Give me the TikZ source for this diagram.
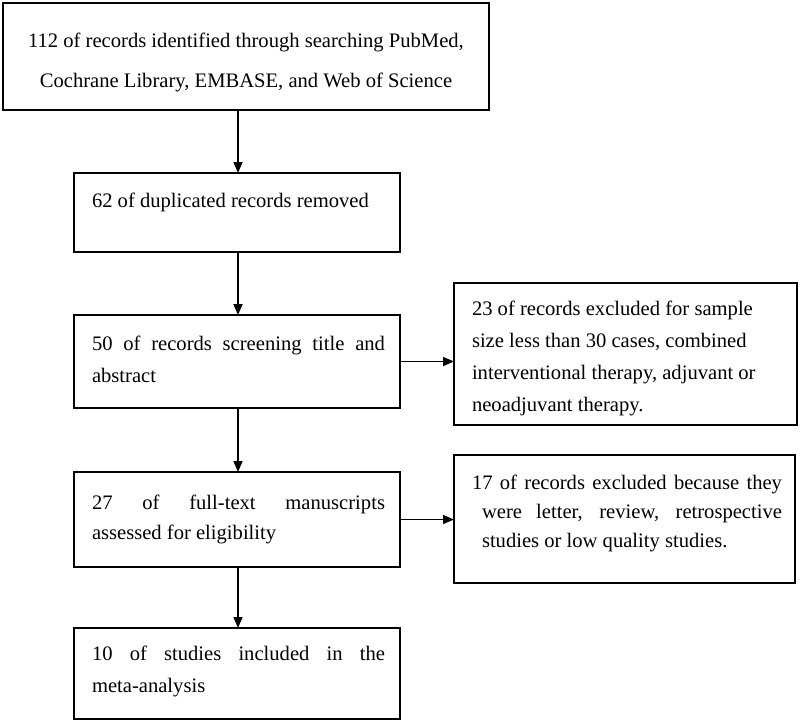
\documentclass[tikz,border=0pt]{standalone}
\usepackage{fontspec}
\setmainfont{Liberation Serif}
\usetikzlibrary{arrows.meta}
% #1 box width, #2 box height, #3 top pad, #4 left pad, #5 text width, #6 text
\newcommand{\boxtxt}[6]{\parbox[c][#2][t]{#1}{\vspace*{#3}\noindent\hspace*{#4}\parbox[t]{#5}{#6}}}
\newcommand{\fs}[1]{\fontsize{20.6}{#1}\selectfont\rule{0pt}{15pt}}
\begin{document}
\begin{tikzpicture}[x=1pt,y=1pt,
  box/.style={draw, line width=2.6pt, inner sep=0pt, outer sep=0pt, anchor=north west, rectangle},
  arr/.style={line width=1.6pt, -{Triangle[length=11pt,width=9pt]}}]
\useasboundingbox (0,0) rectangle (800,-721);
\coordinate (ax) at (238,0);
\node[box] (b1) at (3,-3) {\boxtxt{486pt}{107pt}{29pt}{0pt}{486pt}{\centering\fs{40}112 of records identified through searching PubMed,\\ Cochrane Library, EMBASE, and Web of Science}};
\node[box] (b2) at (74,-173) {\boxtxt{326pt}{79pt}{19pt}{18pt}{293pt}{\fs{32}62 of duplicated records removed}};
\node[box] (b3) at (74,-315) {\boxtxt{326pt}{93pt}{20pt}{18pt}{293pt}{\fs{32}50 of records screening title and\linebreak abstract}};
\node[box] (b4) at (74,-472) {\boxtxt{326pt}{95pt}{22pt}{18pt}{293pt}{\fs{30}27 of full-text manuscripts\linebreak assessed for eligibility}};
\node[box] (b5) at (74,-628) {\boxtxt{326pt}{91pt}{17pt}{18pt}{293pt}{\fs{32}10 of studies included in the\linebreak meta-analysis}};
\node[box] (r1) at (454,-283) {\boxtxt{343pt}{142pt}{17pt}{18pt}{310pt}{\raggedright\fs{32}23 of records excluded for sample\\ size less than 30 cases, combined\\ interventional therapy, adjuvant or\\ neoadjuvant therapy.}};
\node[box] (r2) at (454,-455) {\boxtxt{341pt}{128pt}{19pt}{18pt}{310pt}{\hangindent=10pt\hangafter=1\fs{29}17 of records excluded because they\linebreak were letter, review, retrospective\linebreak studies or low quality studies.}};
\draw[arr] (b1.south -| ax) -- (b2.north -| ax);
\draw[arr] (b2.south -| ax) -- (b3.north -| ax);
\draw[arr] (b3.south -| ax) -- (b4.north -| ax);
\draw[arr] (b4.south -| ax) -- (b5.north -| ax);
\draw[arr] (b3.east) -- (b3.east -| r1.west);
\draw[arr] (b4.east) -- (b4.east -| r2.west);
\end{tikzpicture}
\end{document}
